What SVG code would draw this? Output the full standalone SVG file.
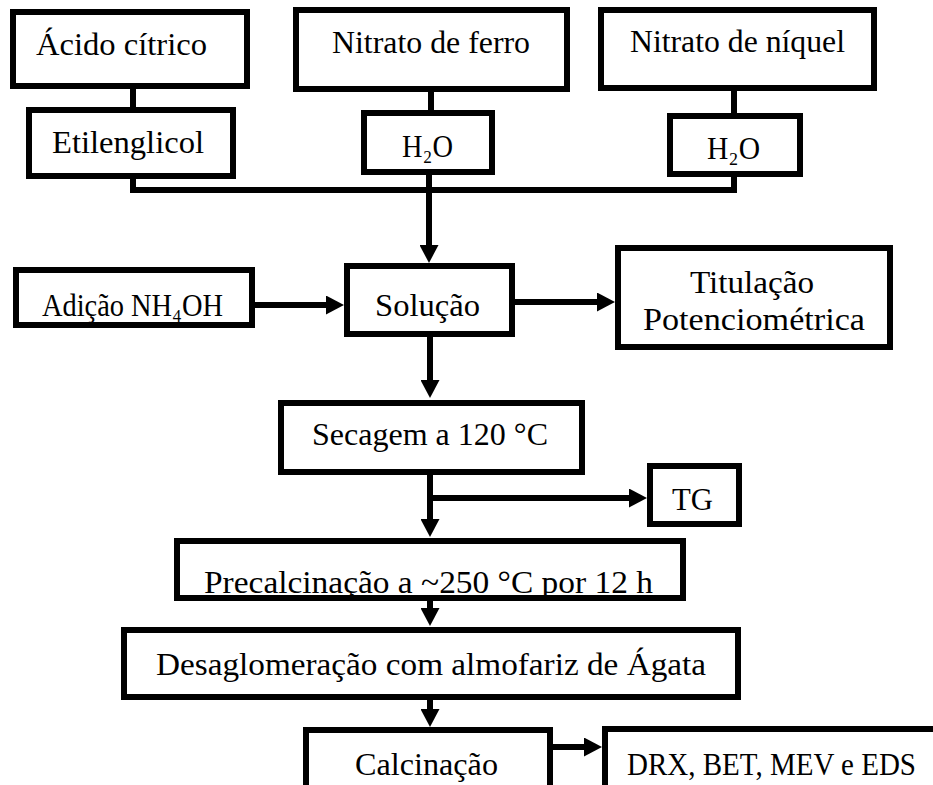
<svg xmlns="http://www.w3.org/2000/svg" width="933" height="785" viewBox="0 0 933 785">
<style>
.box{fill:#fff;stroke:#000;stroke-width:6}
.lbl{font-family:"Liberation Serif","DejaVu Serif","Times New Roman",serif;font-size:32px;fill:#000}
.con{fill:none;stroke:#000;stroke-width:6;stroke-linejoin:miter}
.arr{marker-end:url(#ah)}
</style>
<defs>
<marker id="ah" viewBox="0 0 18 19" refX="8" refY="9.5" markerWidth="18" markerHeight="19" markerUnits="userSpaceOnUse" orient="auto">
<path d="M0,0 L18,9.5 L0,19 z" fill="#000"/>
</marker>
<clipPath id="clipPre"><rect x="180" y="544" width="500" height="51"/></clipPath>
</defs>
<rect width="933" height="785" fill="#fff"/>
<g id="connectors">
<path class="con" d="M133,89 V107"/>
<path class="con" d="M431,92 V110"/>
<path class="con" d="M734,91 V113"/>
<path class="con" d="M133,179 V190 H734 V177"/>
<path class="con arr" d="M429,175 V253"/>
<path class="con arr" d="M255,305 H334"/>
<path class="con arr" d="M515,302 H605"/>
<path class="con arr" d="M430,337 V388"/>
<path class="con arr" d="M430,475 V527"/>
<path class="con arr" d="M430,498 H637"/>
<path class="con arr" d="M430,601 V616"/>
<path class="con arr" d="M430,700 V717"/>
<path class="con arr" d="M553,747 H592"/>
</g>
<g id="acido">
<rect class="box" x="13" y="12" width="234" height="74"/>
<text class="lbl" x="36" y="55" textLength="171" lengthAdjust="spacingAndGlyphs">Ácido cítrico</text>
</g>
<g id="etilenglicol">
<rect class="box" x="29" y="110" width="204" height="66"/>
<text class="lbl" x="52" y="153" textLength="152" lengthAdjust="spacingAndGlyphs">Etilenglicol</text>
</g>
<g id="nitrato-ferro">
<rect class="box" x="296" y="10" width="271" height="79"/>
<text class="lbl" x="332" y="53" textLength="198" lengthAdjust="spacingAndGlyphs">Nitrato de ferro</text>
</g>
<g id="h2o-ferro">
<rect class="box" x="364" y="113" width="128" height="59"/>
<text class="lbl" x="402" y="157" textLength="51" lengthAdjust="spacingAndGlyphs">H₂O</text>
</g>
<g id="nitrato-niquel">
<rect class="box" x="601" y="10" width="273" height="78"/>
<text class="lbl" x="630" y="52" textLength="215" lengthAdjust="spacingAndGlyphs">Nitrato de níquel</text>
</g>
<g id="h2o-niquel">
<rect class="box" x="670" y="116" width="130" height="58"/>
<text class="lbl" x="707" y="159" textLength="53" lengthAdjust="spacingAndGlyphs">H₂O</text>
</g>
<g id="adicao">
<rect class="box" x="16" y="270" width="236" height="55"/>
<text class="lbl" x="42" y="316" textLength="181" lengthAdjust="spacingAndGlyphs">Adição NH₄OH</text>
</g>
<g id="solucao">
<rect class="box" x="347" y="266" width="165" height="68"/>
<text class="lbl" x="375" y="316" textLength="105" lengthAdjust="spacingAndGlyphs">Solução</text>
</g>
<g id="titulacao">
<rect class="box" x="618" y="248" width="272" height="99"/>
<text class="lbl" x="690" y="293" textLength="124" lengthAdjust="spacingAndGlyphs">Titulação</text>
<text class="lbl" x="643" y="330" textLength="222" lengthAdjust="spacingAndGlyphs">Potenciométrica</text>
</g>
<g id="secagem">
<rect class="box" x="281" y="403" width="301" height="69"/>
<text class="lbl" x="312" y="445" textLength="236" lengthAdjust="spacingAndGlyphs">Secagem a 120 °C</text>
</g>
<g id="tg">
<rect class="box" x="650" y="466" width="89" height="58"/>
<text class="lbl" x="672" y="510" textLength="41" lengthAdjust="spacingAndGlyphs">TG</text>
</g>
<g id="precalcinacao">
<rect class="box" x="177" y="541" width="506" height="57"/>
<text class="lbl" x="204" y="593" textLength="449" lengthAdjust="spacingAndGlyphs" clip-path="url(#clipPre)">Precalcinação a ~250 °C por 12 h</text>
</g>
<g id="desaglomeracao">
<rect class="box" x="124" y="630" width="614" height="67"/>
<text class="lbl" x="156" y="675" textLength="550" lengthAdjust="spacingAndGlyphs">Desaglomeração com almofariz de Ágata</text>
</g>
<g id="calcinacao">
<rect class="box" x="306" y="730" width="244" height="80"/>
<text class="lbl" x="355" y="775" textLength="143" lengthAdjust="spacingAndGlyphs">Calcinação</text>
</g>
<g id="drx">
<rect class="box" x="605" y="729" width="340" height="80"/>
<text class="lbl" x="627" y="775" textLength="289" lengthAdjust="spacingAndGlyphs">DRX, BET, MEV e EDS</text>
</g>
</svg>
